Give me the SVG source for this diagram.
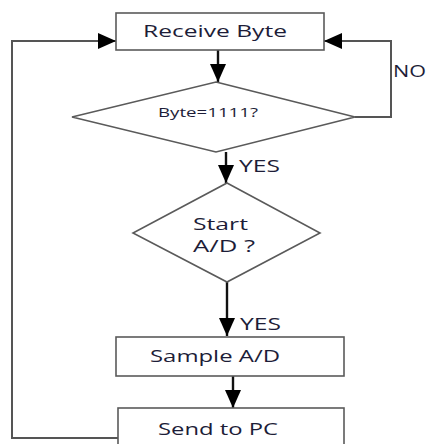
<svg xmlns="http://www.w3.org/2000/svg" width="426" height="444" viewBox="0 0 426 444">
<style>
.box{fill:#fff;stroke:#5a5a5a;stroke-width:1.6}
.con{fill:none;stroke:#111;stroke-width:2.4}
.loop{fill:none;stroke:#555;stroke-width:2}
.t{font-family:"Open Sans","Liberation Sans",sans-serif;fill:#1d1d38;font-size:15.5px;font-weight:500}
</style>
<defs>
<marker id="ah" viewBox="0 0 18 16" refX="18" refY="8" markerWidth="18" markerHeight="16" markerUnits="userSpaceOnUse" orient="auto">
<path d="M0,0 L18,8 L0,16 z" fill="#000"/>
</marker>
</defs>
<rect width="426" height="444" fill="#fff"/>
<g id="connectors">
<line class="con" x1="218" y1="50" x2="218" y2="82" marker-end="url(#ah)"/>
<polyline class="loop" points="355,117 391,117 391,41 324,41" marker-end="url(#ah)"/>
<line class="con" x1="226" y1="152" x2="226" y2="183" marker-end="url(#ah)"/>
<line class="con" x1="227" y1="282" x2="227" y2="336" marker-end="url(#ah)"/>
<line class="con" x1="233" y1="376" x2="233" y2="408" marker-end="url(#ah)"/>
<polyline class="loop" points="118,438 12,438 12,41 116,41" marker-end="url(#ah)"/>
<text class="t" x="393" y="77" textLength="33" lengthAdjust="spacingAndGlyphs">NO</text>
<text class="t" x="239" y="172" textLength="41" lengthAdjust="spacingAndGlyphs">YES</text>
<text class="t" x="240" y="330" textLength="41" lengthAdjust="spacingAndGlyphs">YES</text>
</g>
<g id="receive">
<rect class="box" x="116" y="13" width="208" height="37"/>
<text class="t" x="143" y="37" textLength="144" lengthAdjust="spacingAndGlyphs">Receive Byte</text>
</g>
<g id="byte-check">
<polygon class="box" points="216,82 355,117 216,152 72,117"/>
<text class="t" x="158" y="117" style="font-size:12.5px" textLength="100" lengthAdjust="spacingAndGlyphs">Byte=1111?</text>
</g>
<g id="start-ad">
<polygon class="box" points="227,183 320,233 227,282 133,233"/>
<text class="t" x="193" y="230" textLength="55" lengthAdjust="spacingAndGlyphs">Start</text>
<text class="t" x="193" y="252" textLength="62" lengthAdjust="spacingAndGlyphs">A/D ?</text>
</g>
<g id="sample">
<rect class="box" x="116" y="337" width="228" height="39"/>
<text class="t" x="150" y="362" textLength="130" lengthAdjust="spacingAndGlyphs">Sample A/D</text>
</g>
<g id="send">
<rect class="box" x="118" y="408" width="226" height="44"/>
<text class="t" x="158" y="435" textLength="120" lengthAdjust="spacingAndGlyphs">Send to PC</text>
</g>
</svg>
